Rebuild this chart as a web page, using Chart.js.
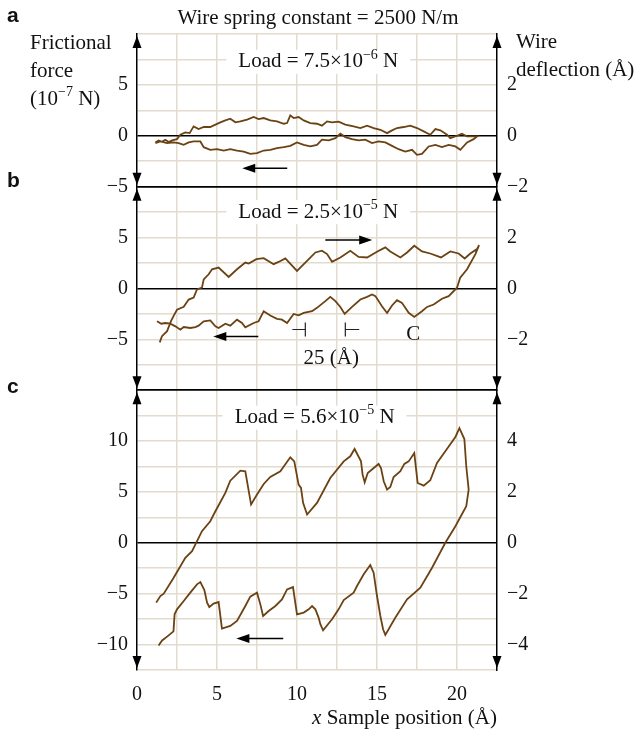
<!DOCTYPE html>
<html>
<head>
<meta charset="utf-8">
<script src="https://cdn.jsdelivr.net/npm/chart.js@4.4.1/dist/chart.umd.min.js"></script>
<style>
  html, body { margin: 0; padding: 0; background: #fff; }
  #wrap { position: relative; width: 635px; height: 729px; }
</style>
</head>
<body>
<div id="wrap"><canvas id="frictionChart" width="635" height="729"></canvas></div>
<script>
// x in Angstrom, y = frictional force (10^-7 N)
const loadA = [
  [1.15,-0.66],[1.35,-0.46],[1.56,-0.59],[1.77,-0.39],[1.98,-0.62],[2.19,-0.46],[2.5,-0.33],
  [2.71,0.1],[3.02,0.33],[3.29,0.26],[3.54,0.92],[3.85,0.66],[4.17,0.86],[4.58,0.86],[4.9,1.09],
  [5.21,1.32],[5.52,1.51],[5.83,1.68],[6.15,1.32],[6.46,1.41],[6.88,1.58],[7.29,1.84],[7.6,1.64],
  [7.92,1.74],[8.33,1.51],[8.75,1.41],[9.17,1.18],[9.38,1.25],[9.58,2.0],[9.79,1.74],[10.1,1.84],
  [10.42,1.51],[10.83,1.25],[11.25,1.18],[11.56,0.99],[11.88,1.41],[12.19,1.32],[12.6,1.38],
  [13.02,1.09],[13.54,0.92],[13.96,0.76],[14.38,0.99],[14.79,0.76],[15.21,0.59],[15.63,0.26],
  [15.94,0.53],[16.25,0.76],[16.67,0.86],[17.08,0.99],[17.5,0.76],[17.92,0.43],[18.33,0.1],
  [18.65,0.66],[18.96,0.53],[19.38,0.1],[19.58,-0.23],[20.0,0.0],[20.31,0.2],[20.63,-0.07],[21.25,-0.07],
  [21.04,-0.33],[20.63,-0.66],[20.21,-1.38],[19.9,-1.05],[19.48,-0.89],[19.06,-1.12],[18.65,-0.89],
  [18.23,-1.05],[17.81,-1.78],[17.5,-1.88],[17.19,-1.38],[16.77,-1.55],[16.35,-1.32],[15.94,-0.99],
  [15.52,-0.66],[15.1,-0.56],[14.69,-0.72],[14.27,-0.39],[13.85,-0.46],[13.44,-0.33],[13.02,-0.13],
  [12.71,0.2],[12.4,-0.23],[11.98,-0.46],[11.56,-0.39],[11.25,-0.89],[10.83,-1.05],[10.42,-0.89],
  [10.0,-0.66],[9.58,-0.99],[9.17,-1.12],[8.75,-1.22],[8.33,-1.38],[7.92,-1.45],[7.5,-1.71],
  [7.08,-1.78],[6.67,-1.55],[6.25,-1.45],[5.83,-1.32],[5.42,-1.45],[5.0,-1.32],[4.58,-1.38],
  [4.17,-1.12],[3.96,-0.56],[3.54,-0.56],[3.23,-0.66],[2.92,-0.89],[2.6,-0.72],[2.29,-0.66],
  [1.88,-0.72],[1.46,-0.56],[1.15,-0.72]
];

const loadB = [
  [1.42,-5.3],[1.56,-4.7],[1.88,-4.2],[2.13,-3.2],[2.29,-2.7],[2.5,-2.1],[2.92,-1.8],[3.23,-1.1],
  [3.54,-0.9],[3.75,-0.1],[4.06,0.07],[4.17,0.89],[4.48,1.39],[4.69,1.88],[5.1,2.05],[5.73,1.12],
  [6.25,1.88],[6.77,2.54],[6.98,2.44],[7.46,2.87],[7.92,2.97],[8.54,2.38],[8.85,2.6],[9.27,2.94],
  [10.0,1.72],[10.63,2.71],[11.15,3.53],[11.56,3.7],[11.88,3.37],[12.19,2.61],[12.71,3.04],
  [13.33,3.7],[13.85,3.1],[14.38,3.04],[15.0,3.6],[15.52,4.03],[15.83,3.63],[16.46,3.04],
  [16.88,3.53],[17.33,4.19],[17.81,3.63],[18.33,3.43],[19.0,3.04],[19.58,3.63],[20.1,3.43],
  [20.48,2.94],[20.83,3.43],[21.25,3.86],[21.38,4.26],
  [21.15,3.37],[20.63,1.88],[20.2,1.06],[20.0,0.07],[19.48,-0.76],[19.06,-1.02],[18.54,-1.58],
  [18.13,-1.82],[17.81,-2.24],[17.33,-2.8],[16.98,-2.4],[16.56,-1.42],[16.25,-1.16],[15.94,-1.68],
  [15.63,-2.41],[15.31,-1.75],[14.9,-0.76],[14.69,-0.59],[14.38,-0.83],[13.96,-1.09],[13.44,-1.82],
  [12.98,-2.51],[12.71,-1.82],[12.4,-1.25],[12.08,-0.83],[11.77,-1.25],[11.25,-1.91],[10.94,-2.24],
  [10.42,-2.41],[10.1,-2.64],[9.79,-2.51],[9.38,-3.4],[9.06,-3.07],[8.75,-3.0],[8.33,-2.67],
  [7.92,-2.24],[7.6,-3.23],[7.29,-3.4],[6.77,-3.83],[6.56,-3.4],[6.25,-3.07],[5.83,-3.66],
  [5.52,-3.47],[5.1,-3.89],[4.9,-3.73],[4.58,-3.14],[4.17,-3.23],[3.85,-3.66],[3.65,-3.8],
  [3.33,-3.89],[2.92,-3.8],[2.71,-4.06],[2.4,-3.73],[2.08,-3.47],[1.77,-3.4],[1.52,-3.47],[1.25,-3.23]
];

const loadC = [
  [1.2,-5.88],[1.46,-5.23],[1.67,-5.0],[2.29,-3.43],[3.02,-1.47],[3.44,-0.82],[3.65,-0.16],
  [4.06,1.14],[4.58,2.12],[4.9,3.1],[5.52,4.9],[5.83,6.1],[6.46,7.09],[6.77,7.03],[7.13,3.76],
  [7.5,4.74],[7.92,5.78],[8.33,6.47],[8.96,7.03],[9.58,8.4],[9.83,8.0],[10.1,5.72],[10.25,5.4],
  [10.38,3.92],[10.63,2.78],[11.25,3.92],[12.08,6.37],[12.92,8.0],[13.33,8.5],[13.6,9.22],
  [14.0,8.0],[14.1,6.7],[14.23,5.95],[14.42,6.86],[15.1,7.75],[15.25,7.35],[15.42,6.05],
  [15.63,5.23],[15.83,5.49],[16.04,6.47],[16.46,7.03],[16.71,7.75],[16.98,8.0],[17.33,8.82],
  [17.54,5.88],[17.92,5.62],[18.33,6.14],[18.75,7.84],[19.27,8.99],[19.9,10.4],[20.15,11.27],
  [20.46,10.2],[20.58,7.5],[20.73,5.23],[20.58,3.6],
  [19.9,1.63],[19.27,0],[18.44,-2.45],[17.71,-4.41],[17.29,-5.0],[16.88,-5.56],[16.15,-7.35],
  [15.52,-9.05],[15.38,-8.5],[15.21,-7.19],[15.0,-5.23],[14.79,-2.94],[14.58,-2.19],[14.17,-3.1],
  [13.75,-4.25],[13.54,-4.9],[12.92,-5.62],[12.6,-6.54],[12.19,-7.52],[11.63,-8.6],[11.46,-8.0],
  [11.35,-7.35],[11.15,-6.54],[10.94,-6.21],[10.73,-6.54],[10.42,-6.86],[10.0,-7.03],[9.75,-4.35],
  [9.38,-4.58],[9.06,-5.56],[8.65,-6.21],[8.23,-6.7],[7.88,-7.19],[7.71,-6.05],[7.5,-4.9],
  [7.08,-5.29],[6.77,-6.21],[6.25,-7.68],[5.83,-8.17],[5.31,-8.43],[5.1,-5.82],[4.79,-5.98],
  [4.52,-6.31],[4.38,-5.88],[4.21,-4.64],[3.96,-3.86],[3.75,-4.08],[3.33,-4.9],[2.92,-5.72],
  [2.5,-6.54],[2.35,-7.03],[2.28,-8.7],[1.9,-9.2],[1.57,-9.6],[1.35,-10.1]
];

const xTickLabels = [0, 5, 10, 15, 20];
const forceLabelsA = [5, 0, -5];
const forceLabelsB = [5, 0, -5];
const forceLabelsC = [10, 5, 0, -5, -10];
const deflLabelsA = [2, 0, -2];
const deflLabelsB = [2, 0, -2];
const deflLabelsC = [4, 2, 0, -2, -4];

const SERIF = "'Liberation Serif', 'Times New Roman', serif";
const GRID = '#e2dbce';
const CURVE = '#6b4213';

function fmt(v) {
  return v < 0 ? '\u2212' + Math.abs(v) : String(v);
}

function leftAxis(min, max, weight, labels, black) {
  return {
    type: 'linear', position: 'left', stack: 'left', stackWeight: max - min, weight: weight,
    min: min, max: max,
    afterFit: s => { s.width = 137; },
    border: { display: true, color: '#000', width: 1.5 },
    grid: {
      drawTicks: false,
      color: c => black.includes(c.tick.value) ? '#000' : GRID,
      lineWidth: c => black.includes(c.tick.value) ? 1.4 : 1.5
    },
    ticks: {
      stepSize: 2.5, autoSkip: false, padding: 9, color: '#111',
      font: { family: SERIF, size: 20 },
      callback: v => labels.includes(v) ? fmt(v) : ''
    }
  };
}

function rightAxis(min, max, weight, labels) {
  return {
    type: 'linear', position: 'right', stack: 'right', stackWeight: (max - min) * 2.5, weight: weight,
    min: min, max: max,
    afterFit: s => { s.width = 138; },
    border: { display: true, color: '#000', width: 1.5 },
    grid: { display: false, drawTicks: false },
    ticks: {
      stepSize: 1, autoSkip: false, padding: 10, color: '#111',
      font: { family: SERIF, size: 20 },
      callback: v => labels.includes(v) ? fmt(v) : ''
    }
  };
}

function toPoints(arr) {
  return arr.map(p => ({ x: p[0], y: p[1] }));
}

function rich(ctx, parts, x, y, align) {
  let w = 0;
  parts.forEach(p => {
    ctx.font = (p.style || '') + ' ' + (p.size || 21) + 'px ' + (p.family || SERIF);
    p.w = ctx.measureText(p.t).width;
    w += p.w;
  });
  let cx = align === 'center' ? x - w / 2 : (align === 'right' ? x - w : x);
  const start = cx;
  ctx.textAlign = 'left';
  ctx.textBaseline = 'middle';
  parts.forEach(p => {
    ctx.font = (p.style || '') + ' ' + (p.size || 21) + 'px ' + (p.family || SERIF);
    ctx.fillText(p.t, cx, y - (p.rise || 0));
    cx += p.w;
  });
  return { x: start, w: w };
}

function arrow(ctx, x1, y1, x2, y2) {
  const dir = Math.sign(x2 - x1);
  ctx.strokeStyle = '#000';
  ctx.lineWidth = 1.5;
  ctx.beginPath();
  ctx.moveTo(x1, y1);
  ctx.lineTo(x2 - dir * 8, y2);
  ctx.stroke();
  ctx.fillStyle = '#000';
  ctx.beginPath();
  ctx.moveTo(x2, y2);
  ctx.lineTo(x2 - dir * 13, y2 - 4.5);
  ctx.lineTo(x2 - dir * 13, y2 + 4.5);
  ctx.closePath();
  ctx.fill();
}

function tri(ctx, x, y, up) {
  const h = up ? 12 : -12;
  ctx.fillStyle = '#000';
  ctx.beginPath();
  ctx.moveTo(x, y);
  ctx.lineTo(x - 4.5, y + h);
  ctx.lineTo(x + 4.5, y + h);
  ctx.closePath();
  ctx.fill();
}

function loadLabel(ctx, x, y, mant, exp) {
  ctx.font = '21px ' + SERIF;
  const parts = [
    { t: 'Load = ' + mant + '\u00d710' },
    { t: '\u2212' + exp, size: 14, rise: 7 },
    { t: ' N' }
  ];
  let w = 0;
  parts.forEach(p => { ctx.font = (p.size || 21) + 'px ' + SERIF; w += ctx.measureText(p.t).width; });
  ctx.fillStyle = '#fff';
  ctx.fillRect(x - w / 2 - 12, y - 12, w + 24, 24);
  ctx.fillStyle = '#111';
  rich(ctx, parts, x, y, 'center');
}

const decorations = {
  id: 'decorations',
  afterDraw(chart) {
    const ctx = chart.ctx;
    const xs = chart.scales.x;
    const ca = chart.chartArea;
    const X = v => xs.getPixelForValue(v);
    const Y = (id, v) => chart.scales[id].getPixelForValue(v);
    ctx.save();

    // axis arrow heads at each panel end
    ['ya', 'yb', 'yc'].forEach(id => {
      const s = chart.scales[id];
      [ca.left, ca.right].forEach(px => {
        tri(ctx, px, s.top + 2, true);
        tri(ctx, px, s.bottom - 2, false);
      });
    });

    // panel letters
    ctx.fillStyle = '#111';
    ctx.textAlign = 'left';
    ctx.textBaseline = 'middle';
    ctx.font = "bold 21px 'Liberation Sans', Arial, sans-serif";
    ctx.fillText('a', 7, 16);
    ctx.fillText('b', 7, 181);
    ctx.fillText('c', 7, 387);

    ctx.fillStyle = '#111';
    rich(ctx, [{ t: 'Wire spring constant = 2500 N/m' }], 318, 18, 'center');
    rich(ctx, [{ t: 'Frictional' }], 30, 43, 'left');
    rich(ctx, [{ t: 'force' }], 30, 71, 'left');
    rich(ctx, [{ t: '(10' }, { t: '\u22127', size: 14, rise: 7 }, { t: ' N)' }], 30, 99, 'left');
    rich(ctx, [{ t: 'Wire' }], 516, 42, 'left');
    rich(ctx, [{ t: 'deflection (\u00c5)' }], 516, 70, 'left');
    rich(ctx, [{ t: 'x', style: 'italic' }, { t: ' Sample position (\u00c5)' }], ca.right, 718, 'right');

    loadLabel(ctx, X(11.33), Y('ya', 7.26), '7.5', '6');
    loadLabel(ctx, X(11.33), Y('yb', 7.49), '2.5', '5');
    loadLabel(ctx, X(11.1), Y('yc', 12.3), '5.6', '5');

    // direction arrows
    arrow(ctx, X(9.39), Y('ya', -3.2), X(6.58), Y('ya', -3.2));
    arrow(ctx, X(11.77), Y('yb', 4.76), X(14.7), Y('yb', 4.76));
    arrow(ctx, X(7.58), Y('yb', -4.73), X(4.77), Y('yb', -4.73));
    arrow(ctx, X(9.14), Y('yc', -9.4), X(6.21), Y('yc', -9.4));

    // 25 A period marker
    ctx.strokeStyle = '#222';
    ctx.lineWidth = 1.2;
    ctx.beginPath();
    ctx.moveTo(X(9.71), Y('yb', -4.04)); ctx.lineTo(X(10.52), Y('yb', -4.04));
    ctx.moveTo(X(10.52), Y('yb', -3.35)); ctx.lineTo(X(10.52), Y('yb', -4.73));
    ctx.moveTo(X(13.02), Y('yb', -3.35)); ctx.lineTo(X(13.02), Y('yb', -4.73));
    ctx.moveTo(X(13.02), Y('yb', -4.04)); ctx.lineTo(X(13.89), Y('yb', -4.04));
    ctx.stroke();
    ctx.fillStyle = '#111';
    rich(ctx, [{ t: '25 (\u00c5)' }], X(12.14), Y('yb', -6.9), 'center');
    rich(ctx, [{ t: 'C' }], X(17.27), Y('yb', -4.53), 'center');

    ctx.restore();
  }
};

const ctx = document.getElementById('frictionChart');

const lineStyle = {
  showLine: true,
  borderColor: CURVE,
  borderWidth: 1.8,
  pointRadius: 0,
  tension: 0,
  fill: false
};

new Chart(ctx, {
  type: 'scatter',
  data: {
    datasets: [
      Object.assign({ label: 'Load 7.5e-6 N', data: toPoints(loadA), yAxisID: 'ya' }, lineStyle),
      Object.assign({ label: 'Load 2.5e-5 N', data: toPoints(loadB), yAxisID: 'yb' }, lineStyle),
      Object.assign({ label: 'Load 5.6e-5 N', data: toPoints(loadC), yAxisID: 'yc' }, lineStyle)
    ]
  },
  options: {
    responsive: false,
    animation: false,
    layout: { padding: { top: 34, left: 0, right: 0, bottom: 0 } },
    plugins: {
      legend: { display: false },
      tooltip: { enabled: false }
    },
    scales: {
      x: {
        type: 'linear', position: 'bottom', min: 0, max: 22.5,
        afterFit: s => { s.height = 59; },
        border: { display: false },
        grid: {
          drawTicks: false,
          color: c => (c.tick.value === 0 || c.tick.value === 22.5) ? 'rgba(0,0,0,0)' : GRID,
          lineWidth: 1.5
        },
        ticks: {
          stepSize: 2.5, autoSkip: false, padding: 13, color: '#111', maxRotation: 0,
          font: { family: SERIF, size: 20 },
          callback: v => xTickLabels.includes(v) ? String(v) : ''
        }
      },
      yc: leftAxis(-12.5, 15, 1, forceLabelsC, [0, 15]),
      yb: leftAxis(-10, 10, 2, forceLabelsB, [0, 10, -10]),
      ya: leftAxis(-5, 10, 3, forceLabelsA, [0, -5]),
      ya2: rightAxis(-2, 4, 1, deflLabelsA),
      yb2: rightAxis(-4, 4, 2, deflLabelsB),
      yc2: rightAxis(-5, 6, 3, deflLabelsC)
    }
  },
  plugins: [decorations]
});
</script>
</body>
</html>
